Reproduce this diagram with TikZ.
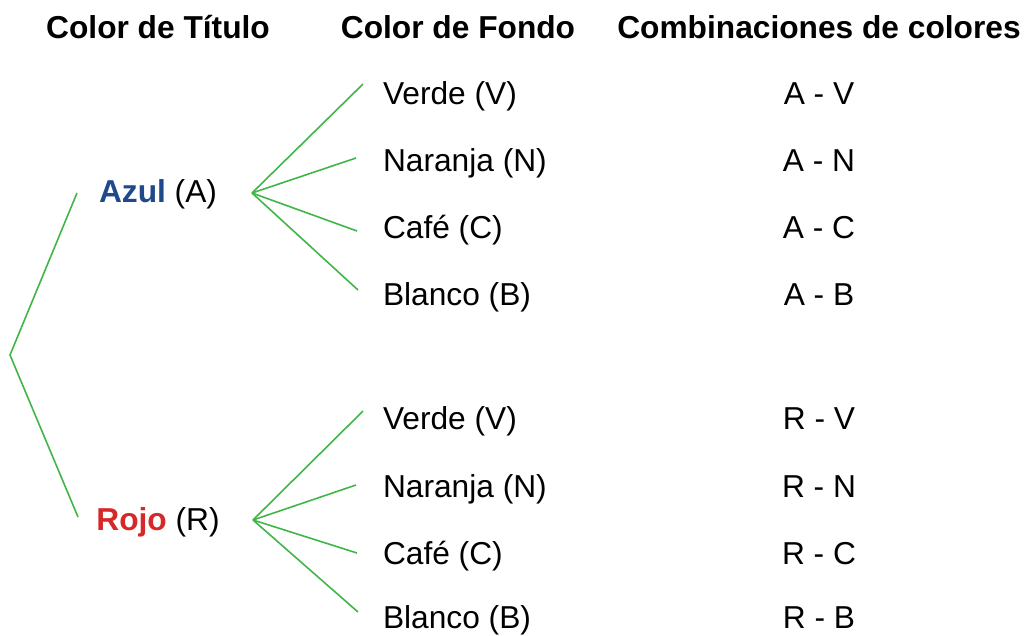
\documentclass[tikz,border=0pt]{standalone}
\usepackage{fontspec}
\setmainfont{Liberation Sans}
\begin{document}
\begin{tikzpicture}[x=1pt,y=-1pt,
  every node/.style={inner sep=0pt,outer sep=0pt,font=\fontsize{31.7}{38}\selectfont},
  head/.style={anchor=base,font=\fontsize{31.7}{38}\selectfont\bfseries},
  item/.style={anchor=base west},
  combo/.style={anchor=base},
  branch/.style={draw=treegreen,line width=1.6pt}]
\definecolor{treegreen}{RGB}{64,182,72}
\definecolor{azulc}{RGB}{31,73,140}
\definecolor{rojoc}{RGB}{214,40,40}
\useasboundingbox (0,0) rectangle (1024,635);
% headings
\node[head] (h1) at (158,38) {Color de Título};
\node[head] (h2) at (458,38) {Color de Fondo};
\node[head] (h3) at (819,38) {Combinaciones de colores};
% first level
\coordinate (root) at (10,355);
\node[anchor=base] (azul) at (158,202.5) {\textbf{\color{azulc}Azul} (A)};
\node[anchor=base] (rojo) at (158,530.5) {\textbf{\color{rojoc}Rojo} (R)};
\coordinate (azulin) at (77,193);
\coordinate (rojoin) at (78,517);
\coordinate (azulout) at (252,193);
\coordinate (rojoout) at (253,520);
\draw[branch] (azulin) -- (root) -- (rojoin);
% second level items
\node[item] (av) at (383,104) {Verde (V)};
\node[item] (an) at (383,171) {Naranja (N)};
\node[item] (ac) at (383,238) {Café (C)};
\node[item] (ab) at (383,305) {Blanco (B)};
\node[item] (rv) at (383,429) {Verde (V)};
\node[item] (rn) at (383,497) {Naranja (N)};
\node[item] (rc) at (383,564) {Café (C)};
\node[item] (rb) at (383,628) {Blanco (B)};
% branch ends
\coordinate (e1) at (363,84);
\coordinate (e2) at (356,158);
\coordinate (e3) at (357,231);
\coordinate (e4) at (358,290);
\coordinate (f1) at (363,411);
\coordinate (f2) at (356,485);
\coordinate (f3) at (357,553);
\coordinate (f4) at (358,612);
\foreach \e in {e1,e2,e3,e4} \draw[branch] (azulout) -- (\e);
\foreach \f in {f1,f2,f3,f4} \draw[branch] (rojoout) -- (\f);
% combinations
\node[combo] (cav) at (819,104) {A - V};
\node[combo] (can) at (819,171) {A - N};
\node[combo] (cac) at (819,238) {A - C};
\node[combo] (cab) at (819,305) {A - B};
\node[combo] (crv) at (819,429) {R - V};
\node[combo] (crn) at (819,497) {R - N};
\node[combo] (crc) at (819,564) {R - C};
\node[combo] (crb) at (819,628) {R - B};
\end{tikzpicture}
\end{document}
